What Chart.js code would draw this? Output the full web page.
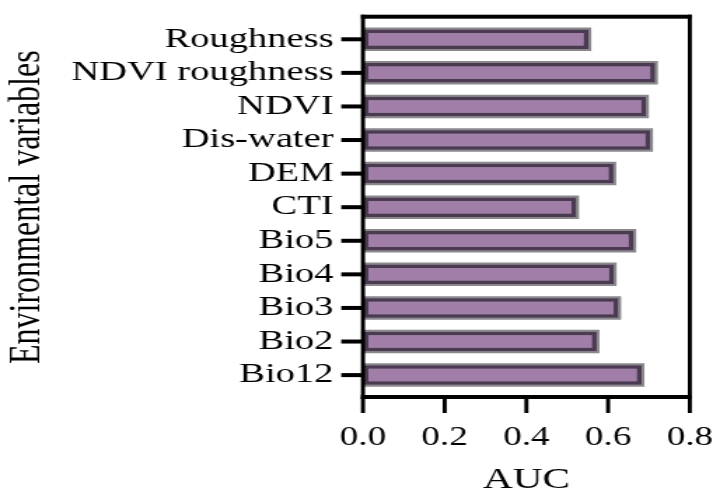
<!DOCTYPE html>
<html>
<head>
<meta charset="utf-8">
<script src="https://cdn.jsdelivr.net/npm/chart.js@4.4.1/dist/chart.umd.min.js"></script>
<style>
  html, body { margin: 0; padding: 0; background: #fff; overflow: hidden; }
  #wrap { width: 519px; height: 493px; transform: scaleX(1.4008); transform-origin: 0 0; }
</style>
</head>
<body>
<div id="wrap"><canvas id="c"></canvas></div>
<script>
const categories = ["Roughness", "NDVI roughness", "NDVI", "Dis-water", "DEM", "CTI", "Bio5", "Bio4", "Bio3", "Bio2", "Bio12"];
const aucValues = [0.552, 0.715, 0.693, 0.703, 0.613, 0.522, 0.662, 0.614, 0.625, 0.572, 0.682];
const xTicks = [0.0, 0.2, 0.4, 0.6, 0.8];
const xTitle = "AUC";
const yTitle = "Environmental variables";

const FONT = "'Liberation Serif', 'Times New Roman', serif";

const framePlugin = {
  id: 'frame',
  afterDraw(chart) {
    const ctx = chart.ctx;
    const xs = chart.scales.x, ys = chart.scales.y;
    const ca = chart.chartArea;
    const x0 = xs.getPixelForValue(0), x1 = xs.getPixelForValue(0.8);
    const top = ca.top - 5.8, bottom = ca.bottom + 5.1;
    const vw = 2.9, hw = 4;
    ctx.save();
    ctx.fillStyle = '#000';
    ctx.fillRect(x0 - vw / 2, top - hw / 2, x1 - x0 + vw, hw);
    ctx.fillRect(x0 - vw / 2, bottom - hw / 2, x1 - x0 + vw, hw);
    ctx.fillRect(x0 - vw / 2, top - hw / 2, vw, bottom - top + hw);
    ctx.fillRect(x1 - vw / 2, top - hw / 2, vw, bottom - top + hw);
    xTicks.forEach(v => {
      const px = xs.getPixelForValue(v);
      ctx.fillRect(px - vw / 2, bottom, vw, 16);
    });
    categories.forEach((c, i) => {
      const py = ys.getPixelForValue(i);
      ctx.fillRect(x0 - 15.5, py - hw / 2, 15.5, hw);
    });
    ctx.restore();
  }
};

new Chart(document.getElementById('c'), {
  type: 'bar',
  data: {
    labels: categories,
    datasets: [
      {
        data: aucValues,
        backgroundColor: '#a07ea8',
        borderColor: '#4a3a52',
        borderWidth: 3.5,
        borderSkipped: false,
        barThickness: 19.5,
        inflateAmount: 0,
        grouped: false
      },
      {
        data: aucValues,
        backgroundColor: '#8a888c',
        borderWidth: 0,
        barThickness: 19.5,
        inflateAmount: 2,
        grouped: false
      }
    ]
  },
  options: {
    indexAxis: 'y',
    responsive: true,
    maintainAspectRatio: false,
    animation: false,
    layout: { padding: { top: 19.8, right: 17.9, left: 0, bottom: 0 } },
    plugins: { legend: { display: false }, tooltip: { enabled: false } },
    scales: {
      x: {
        type: 'linear',
        min: 0, max: 0.8,
        afterBuildTicks(scale) { scale.ticks = xTicks.map(v => ({ value: v })); },
        afterFit(scale) { scale.height = 101.1; },
        grid: { display: true, drawOnChartArea: false, drawTicks: true, tickLength: 20, color: 'rgba(0,0,0,0)' },
        border: { display: false },
        ticks: {
          color: '#000',
          padding: 10,
          font: { family: FONT, size: 26.5 },
          maxRotation: 0,
          callback: v => Number(v).toFixed(1)
        },
        title: {
          display: true, text: xTitle, color: '#000',
          font: { family: FONT, size: 29.5 },
          padding: { top: 0, bottom: -5 }
        }
      },
      y: {
        type: 'category',
        afterFit(scale) { scale.width = 259.1; },
        grid: { display: true, offset: false, drawOnChartArea: false, drawTicks: true, tickLength: 15, color: 'rgba(0,0,0,0)' },
        border: { display: false },
        ticks: {
          color: '#000',
          padding: 6,
          font: { family: FONT, size: 27.5 },
          autoSkip: false
        },
        title: {
          display: true, text: yTitle, color: '#000',
          font: { family: FONT, size: 32 },
          padding: { top: 0, bottom: 0 }
        }
      }
    }
  },
  plugins: [framePlugin]
});
</script>
</body>
</html>
